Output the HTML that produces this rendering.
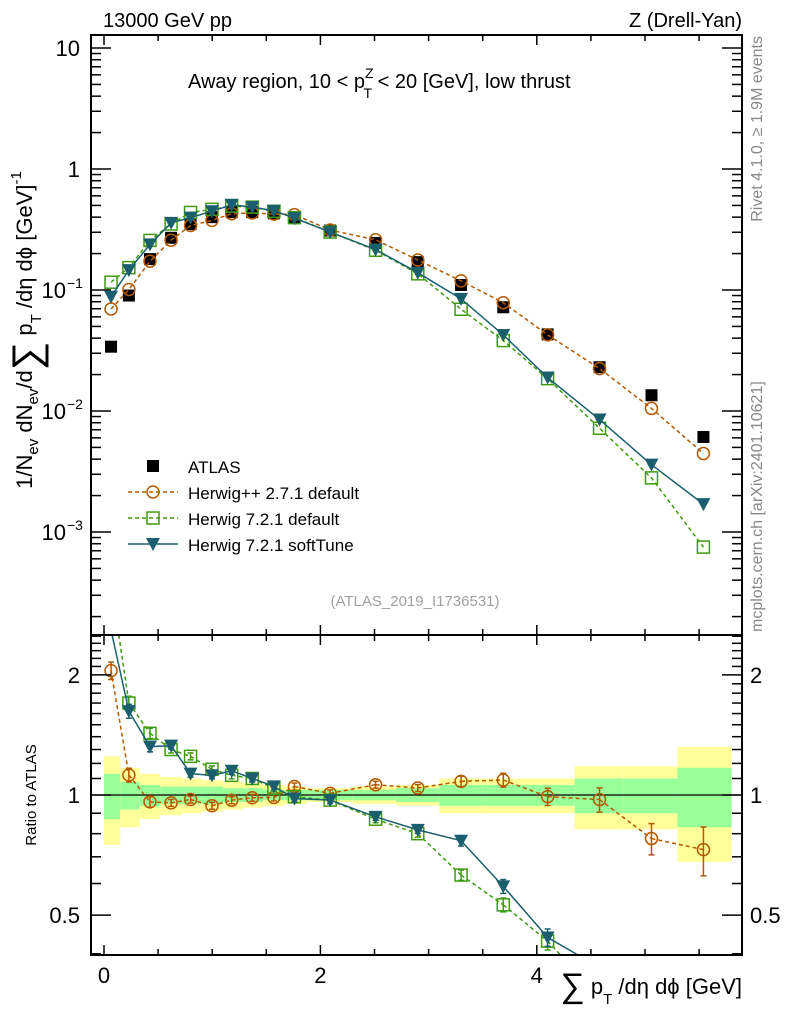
<!DOCTYPE html>
<html><head><meta charset="utf-8"><style>
html,body{margin:0;background:#fff;overflow:hidden;height:1024px}
svg{display:block;font-family:"Liberation Sans",sans-serif;overflow:hidden}
</style></head><body>
<svg id="c" width="786" height="1024" xmlns="http://www.w3.org/2000/svg"></svg>
<script>
const xs=[0.065,0.23,0.425,0.62,0.80,0.998,1.18,1.37,1.57,1.76,2.09,2.51,2.90,3.30,3.69,4.10,4.58,5.06,5.54];
const edges=[0,0.15,0.33,0.52,0.72,0.9,1.1,1.28,1.47,1.67,1.87,2.3,2.7,3.1,3.5,3.9,4.35,4.8,5.3,5.8];
const atlas=[0.034,0.09,0.18,0.27,0.35,0.40,0.44,0.44,0.43,0.40,0.31,0.245,0.17,0.11,0.072,0.043,0.023,0.0135,0.0061];
const hpp=[0.0697,0.101,0.173,0.258,0.341,0.376,0.427,0.433,0.424,0.42,0.313,0.26,0.177,0.119,0.0785,0.0426,0.0224,0.0105,0.00445];
const h7def=[0.116,0.153,0.257,0.351,0.4375,0.464,0.493,0.484,0.447,0.396,0.301,0.213,0.136,0.0693,0.0382,0.0185,0.0072,0.0028,0.00075];
const h7soft=[0.088,0.146,0.238,0.359,0.396,0.448,0.506,0.484,0.452,0.392,0.301,0.216,0.139,0.0845,0.0425,0.0189,0.0085,0.0036,0.0017];
const mcErr=[0.05,0.04,0.03,0.02,0.02,0.02,0.02,0.02,0.02,0.02,0.02,0.02,0.02,0.03,0.04,0.05,0.07,0.09,0.14];
const yellowErr=[0.25,0.17,0.13,0.11,0.10,0.09,0.08,0.07,0.06,0.05,0.04,0.05,0.06,0.10,0.10,0.10,0.18,0.18,0.32];
const greenErr=[0.13,0.08,0.06,0.05,0.05,0.05,0.04,0.04,0.03,0.03,0.03,0.03,0.04,0.06,0.06,0.06,0.10,0.10,0.17];
const xTicks=[0,2,4];

const NS="http://www.w3.org/2000/svg";
const svg=document.getElementById('c');
const L=91,R=742,T=35,MB=635,RB=955;
const X=v=>104+108.2*v;
const Ym=v=>169-121*Math.log10(v);
const Yr=v=>795-399*Math.log10(v);
const rLo=Math.pow(10,(795-RB)/399), rHi=Math.pow(10,(795-MB)/399);
function el(tag,attrs,parent){const e=document.createElementNS(NS,tag);for(const k in attrs)e.setAttribute(k,attrs[k]);(parent||svg).appendChild(e);return e;}
function txt(s,x,y,size,anchor,parent,fill){const t=el('text',{x:x,y:y,'font-size':size,'text-anchor':anchor||'start',fill:fill||'#000'},parent);t.textContent=s;return t;}

const defs=el('defs',{});
const cm=el('clipPath',{id:'cm'},defs);el('rect',{x:L,y:T,width:R-L,height:MB-T},cm);
const cr=el('clipPath',{id:'cr'},defs);el('rect',{x:L,y:MB,width:R-L,height:RB-MB},cr);

const bands=el('g',{'clip-path':'url(#cr)'});


for(let i=0;i<xs.length;i++){
  const x0=X(edges[i]),x1=X(edges[i+1]);
  const y=el('rect',{x:x0,y:Yr(1+yellowErr[i]),width:x1-x0,height:Yr(1-yellowErr[i])-Yr(1+yellowErr[i]),fill:'#ffff99'},bands);
  
  
  const g=el('rect',{x:x0,y:Yr(1+greenErr[i]),width:x1-x0,height:Yr(1-greenErr[i])-Yr(1+greenErr[i]),fill:'#99ff99'},bands);
  
  
}
el('line',{x1:L,x2:R,y1:Yr(1),y2:Yr(1),stroke:'#000','stroke-width':1.2});

const series=[
 {name:'herwigpp-271-default',vals:hpp,col:'#b35900',dash:'4,3',mk:'circle'},
 {name:'herwig-721-default',vals:h7def,col:'#3f9a10',dash:'4,3',mk:'square'},
 {name:'herwig-721-softtune',vals:h7soft,col:'#1b5f6e',dash:'',mk:'tri'}
];
function marker(type,x,y,col,g){
  if(type==='circle')return el('circle',{cx:x,cy:y,r:6,fill:'none',stroke:col,'stroke-width':1.5},g);
  if(type==='square')return el('rect',{x:x-6,y:y-6,width:12,height:12,fill:'none',stroke:col,'stroke-width':1.5},g);
  if(type==='tri')return el('path',{d:`M${x-7},${y-6}L${x+7},${y-6}L${x},${y+7}Z`,fill:col},g);
  return el('rect',{x:x-6,y:y-6,width:12,height:12,fill:'#000'},g);
}
function errbar(x,y1,y2,col,g){
  y1=Math.max(MB,Math.min(RB,y1));y2=Math.max(MB,Math.min(RB,y2));
  el('line',{x1:x,x2:x,y1:y1,y2:y2,stroke:col,'stroke-width':1.5},g);
  el('line',{x1:x-3,x2:x+3,y1:y1,y2:y1,stroke:col,'stroke-width':1.5},g);
  el('line',{x1:x-3,x2:x+3,y1:y2,y2:y2,stroke:col,'stroke-width':1.5},g);
}
// clip ratio polyline in log space to [rLo,rHi]
function clippedRatioPath(vals){
  const pts=vals.map((v,i)=>[xs[i],Math.log10(v/atlas[i])]);
  const lo=Math.log10(rLo),hi=Math.log10(rHi);
  let d='';
  for(let i=0;i<pts.length-1;i++){
    let [x0,y0]=pts[i],[x1,y1]=pts[i+1];
    if((y0<lo&&y1<lo)||(y0>hi&&y1>hi))continue;
    const lerp=(yt)=>x0+(x1-x0)*(yt-y0)/(y1-y0);
    let ax=x0,ay=y0,bx=x1,by=y1;
    if(ay<lo){ax=lerp(lo);ay=lo;} else if(ay>hi){ax=lerp(hi);ay=hi;}
    if(by<lo){bx=lerp(lo);by=lo;} else if(by>hi){bx=lerp(hi);by=hi;}
    d+=`M${X(ax)},${795-399*ay}L${X(bx)},${795-399*by}`;
  }
  return d;
}
const ag=el('g',{'clip-path':'url(#cm)'});


atlas.forEach((v,i)=>{const m=marker('data',X(xs[i]),Ym(v),'#000',ag);
  
  });
series.forEach(s=>{
  const gm=el('g',{'clip-path':'url(#cm)'});
  
  
  el('polyline',{points:s.vals.map((v,i)=>X(xs[i])+','+Ym(v)).join(' '),fill:'none',stroke:s.col,'stroke-width':1.5,'stroke-dasharray':s.dash},gm);
  s.vals.forEach((v,i)=>{
    if(mcErr[i]>0.06)errbar(X(xs[i]),Ym(v*(1+mcErr[i])),Ym(v*(1-mcErr[i])),s.col,gm);
    const m=marker(s.mk,X(xs[i]),Ym(v),s.col,gm);
    
    });
  const gr=el('g',{'clip-path':'url(#cr)'});
  
  
  el('path',{d:clippedRatioPath(s.vals),fill:'none',stroke:s.col,'stroke-width':1.5,'stroke-dasharray':s.dash},gr);
  s.vals.forEach((v,i)=>{const r=v/atlas[i];
    if(r<rLo||r>rHi)return;
    errbar(X(xs[i]),Yr(r*(1+mcErr[i])),Yr(r*(1-mcErr[i])),s.col,gr);
    const m=marker(s.mk,X(xs[i]),Yr(r),s.col,gr);
    
    });
});

el('rect',{x:L,y:T,width:R-L,height:MB-T,fill:'none',stroke:'#000','stroke-width':2});
el('rect',{x:L,y:MB,width:R-L,height:RB-MB,fill:'none',stroke:'#000','stroke-width':2});

for(let v=0;v<=5.8;v+=0.5){
  const major=Math.abs(v-Math.round(v/2)*2)<1e-6, len=major?10:6;
  el('line',{x1:X(v),x2:X(v),y1:T,y2:T+len,stroke:'#000','stroke-width':1.5});
  el('line',{x1:X(v),x2:X(v),y1:MB,y2:MB+len,stroke:'#000','stroke-width':1.5});
  el('line',{x1:X(v),x2:X(v),y1:MB,y2:MB-len,stroke:'#000','stroke-width':1.5});
  el('line',{x1:X(v),x2:X(v),y1:RB,y2:RB-len,stroke:'#000','stroke-width':1.5});
}
xTicks.forEach(v=>{const t=txt(String(v),X(v),983,22,'middle');
  
  });

for(let e=-4;e<=1;e++){for(let k=1;k<10;k++){const v=k*Math.pow(10,e);const y=Ym(v);if(y<T||y>MB)continue;
  const len=k===1?20:10;
  el('line',{x1:L,x2:L+len,y1:y,y2:y,stroke:'#000','stroke-width':1.5});
  el('line',{x1:R,x2:R-len,y1:y,y2:y,stroke:'#000','stroke-width':1.5});}}
[[10,'10'],[1,'1']].forEach(([v,s])=>txt(s,80,Ym(v)+8,22,'end'));
[-1,-2,-3].forEach(e=>{const t=el('text',{x:66,y:Ym(Math.pow(10,e))+8,'font-size':22,'text-anchor':'end'});t.textContent='10';
  const s=el('text',{x:67,y:Ym(Math.pow(10,e))-2,'font-size':14});s.textContent=String(e).replace('-','−');});

[0.4,0.5,0.6,0.7,0.8,0.9,1,1.1,1.2,1.3,1.4,1.5,1.6,1.7,1.8,1.9,2,2.1,2.2,2.3,2.4,2.5].forEach(v=>{const y=Yr(v);
  const len=(v===0.5||v===1||v===2)?20:10;
  el('line',{x1:L,x2:L+len,y1:y,y2:y,stroke:'#000','stroke-width':1.5});
  el('line',{x1:R,x2:R-len,y1:y,y2:y,stroke:'#000','stroke-width':1.5});});
[[2,'2'],[1,'1'],[0.5,'0.5']].forEach(([v,s])=>{txt(s,80,Yr(v)+8,22,'end');txt(s,750,Yr(v)+8,22,'start');});

const t1=txt('13000 GeV pp',103,27,20);
const t2=txt('Z (Drell-Yan)',742,27,20,'end');
const tt=el('text',{x:188,y:88,'font-size':20});
tt.innerHTML='Away region, 10 &lt; p<tspan font-size="14" dy="-10">Z</tspan><tspan font-size="14" dy="20" dx="-10">T</tspan><tspan dy="-10"> &lt; 20 [GeV], low thrust</tspan>';
const cap=txt('(ATLAS_2019_I1736531)',415,606,15,'middle',null,'#a0a0a0');
const rv=el('text',{x:762,y:36,'font-size':16,fill:'#888','text-anchor':'end',transform:'rotate(-90 762 36)'});rv.textContent='Rivet 4.1.0, ≥ 1.9M events';

const mc=el('text',{x:762,y:632,'font-size':16,fill:'#888',transform:'rotate(-90 762 632)'});mc.textContent='mcplots.cern.ch [arXiv:2401.10621]';

const yt=el('text',{x:32,y:330,'font-size':22,transform:'rotate(-90 32 330)','text-anchor':'middle'});
yt.innerHTML='1/N<tspan font-size="15" dy="6">ev</tspan><tspan dy="-6"> dN</tspan><tspan font-size="15" dy="6">ev</tspan><tspan dy="-6">/d</tspan><tspan font-size="40" dy="8">∑</tspan><tspan dy="-8"> p</tspan><tspan font-size="15" dy="9">T</tspan><tspan dy="-9"> /dη dϕ  [GeV]</tspan><tspan font-size="15" dy="-11">-1</tspan>';

const rt=el('text',{x:36,y:795,'font-size':15,transform:'rotate(-90 36 795)','text-anchor':'middle'});rt.textContent='Ratio to ATLAS';

const xt=el('text',{x:742,y:994,'font-size':22,'text-anchor':'end'});
xt.innerHTML='<tspan font-size="34" dy="3">∑</tspan><tspan dy="-3"> p</tspan><tspan font-size="15" dy="10">T</tspan><tspan dy="-10"> /dη dϕ [GeV]</tspan>';


const lg=el('g',{});
const items=[['ATLAS','data','#000',''],['Herwig++ 2.7.1 default','circle','#b35900','4,3'],['Herwig 7.2.1 default','square','#3f9a10','4,3'],['Herwig 7.2.1 softTune','tri','#1b5f6e','']];
items.forEach((it,i)=>{const y=466+26*i;const g=el('g',{},lg);
  
  
  if(i>0)el('line',{x1:128,x2:178,y1:y,y2:y,stroke:it[2],'stroke-width':1.5,'stroke-dasharray':it[3]},g);
  marker(it[1],153,y,it[2],g);
  txt(it[0],188,y+7,17,'start',g);});
</script>
</body></html>
